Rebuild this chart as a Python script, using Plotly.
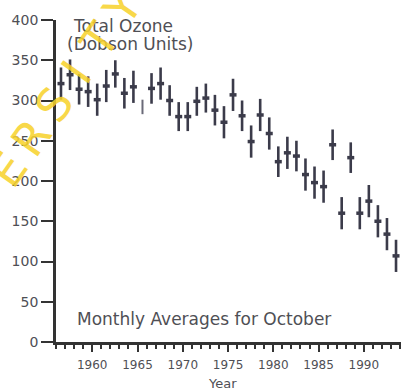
import plotly.graph_objects as go

# ---- data (October monthly mean total ozone, Dobson Units) ----
years = list(range(1956, 1994))
ozone = [321, 332, 314, 311, 301, 318, 333, 309, 317, 292,
         315, 321, 300, 280, 280, 299, 303, 288, 273, 307,
         281, 249, 282, 259, 224, 235, 231, 208, 198, 193,
         245, 160, 229, 160, 175, 150, 134, 107]
err = [20, 19, 19, 19, 20, 20, 17, 19, 20, 9,
       19, 20, 19, 18, 18, 18, 18, 19, 20, 20,
       19, 20, 20, 20, 19, 20, 19, 20, 20, 20,
       19, 20, 19, 20, 20, 20, 20, 20]
faint_years = [1965]
y_ticks = [0, 50, 100, 150, 200, 250, 300, 350, 400]
x_major = [1960, 1965, 1970, 1975, 1980, 1985, 1990]
watermark = "UNIVERSITY"

X_OFFSET = 0.55  # position of the October value inside its year

INK = "#3b3b4a"
TXT = "#4f4f55"
FONT = "DejaVu Sans"

main_x = [y + X_OFFSET for y in years if y not in faint_years]
main_y = [v for y, v in zip(years, ozone) if y not in faint_years]
main_e = [e for y, e in zip(years, err) if y not in faint_years]
f_x = [y + X_OFFSET for y in years if y in faint_years]
f_y = [v for y, v in zip(years, ozone) if y in faint_years]
f_e = [e for y, e in zip(years, err) if y in faint_years]

fig = go.Figure()
fig.add_trace(go.Scatter(
    x=main_x, y=main_y, mode="markers",
    marker=dict(symbol="line-ew", size=5, color=INK,
                line=dict(width=3.5, color=INK)),
    error_y=dict(type="data", array=main_e, visible=True,
                 thickness=2.6, width=0, color=INK),
    showlegend=False, cliponaxis=False))
fig.add_trace(go.Scatter(
    x=f_x, y=f_y, mode="markers",
    marker=dict(size=0.1, color="#6a6a78"),
    error_y=dict(type="data", array=f_e, visible=True,
                 thickness=2, width=0, color="#6a6a78"),
    showlegend=False))

L, R, T, B = 56, 0, 20, 46
W, H = 401, 388
pw, ph = W - L - R, H - T - B


def px(xp):
    return (xp - L) / pw


def py(yp):
    return (H - B - yp) / ph


fig.update_layout(
    width=W, height=H,
    margin=dict(l=L, r=R, t=T, b=B, pad=0),
    paper_bgcolor="white", plot_bgcolor="white",
    font=dict(family=FONT, color=TXT),
    xaxis=dict(range=[1956.0, 1994.1], showgrid=False, zeroline=False,
               showline=True, linecolor="#333333", linewidth=2.5,
               tickmode="array", tickvals=x_major,
               ticktext=[str(v) for v in x_major],
               ticks="outside", ticklen=7, tickwidth=2, tickcolor="#333333",
               ticklabelstandoff=3,
               tickfont=dict(family=FONT, size=12, color=TXT),
               minor=dict(dtick=1, tick0=1956, ticks="outside", ticklen=4,
                          tickwidth=1.5, tickcolor="#333333", showgrid=False)),
    yaxis=dict(range=[0, 400], showgrid=False, zeroline=False,
               showline=True, linecolor="#333333", linewidth=2.8,
               tickmode="array", tickvals=y_ticks,
               ticks="outside", ticklen=12, tickwidth=2, tickcolor="#333333",
               tickfont=dict(family=FONT, size=14, color=TXT)),
)

ann = [
    dict(text="Total Ozone", x=px(71), y=py(26), xanchor="left", yanchor="middle",
         font=dict(size=17, color=TXT, family=FONT)),
    dict(text="(Dobson Units)", x=px(65), y=py(44), xanchor="left", yanchor="middle",
         font=dict(size=17, color=TXT, family=FONT)),
    dict(text="Monthly Averages for October", x=px(75), y=py(319), xanchor="left",
         yanchor="middle", font=dict(size=17, color=TXT, family=FONT)),
    dict(text="Year", x=px(222), y=py(383), xanchor="center", yanchor="middle",
         font=dict(size=13, color=TXT, family=FONT)),
]
# diagonal watermark, one letter at a time ("E" centred at 8,170 px)
e_idx = watermark.index("E")
for k, ch in enumerate(watermark):
    cx = 8 + 23 * (k - e_idx)
    cy = 170 - 32.5 * (k - e_idx)
    ann.append(dict(text=ch, x=px(cx), y=py(cy), xanchor="center",
                    yanchor="middle", textangle=-55, opacity=0.85,
                    font=dict(size=46, color="#f7d22a", family=FONT)))
for a in ann:
    a.update(xref="paper", yref="paper", showarrow=False)
fig.update_layout(annotations=ann)

fig.write_html("out.html")
